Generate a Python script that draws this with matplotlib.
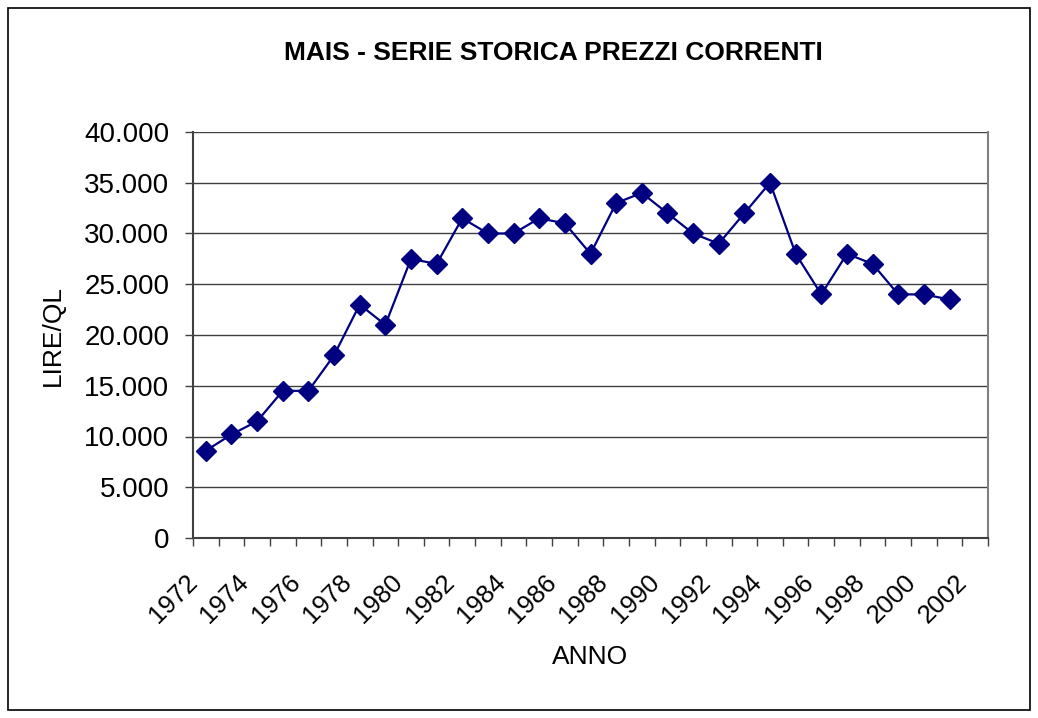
import matplotlib.pyplot as plt
from matplotlib.patches import Rectangle
from matplotlib.ticker import FuncFormatter, MultipleLocator
from matplotlib.transforms import ScaledTranslation

plt.rcParams['font.family'] = ['Liberation Sans', 'DejaVu Sans']

# categories 1972..2002, no price for 2002
years = list(range(1972, 2003))
prices = [8600, 10200, 11500, 14500, 14500, 18000, 23000, 21000, 27500, 27000,
          31500, 30000, 30000, 31500, 31000, 28000, 33000, 34000, 32000, 30000,
          29000, 32000, 35000, 28000, 24000, 28000, 27000, 24000, 24000, 23500]
tick_years = years[::2]

fig = plt.figure(figsize=(10.38, 7.18), dpi=100)
ax = fig.add_axes([193 / 1038, 1 - 538 / 718, 795 / 1038, 406 / 718])

x = list(range(len(prices)))
ax.plot(x, prices, color='#000080', lw=1.6, marker='D', ms=10.5,
        markerfacecolor='#000080', markeredgecolor='#000080', zorder=3)

ax.set_xlim(-0.5, len(years) - 0.5)
ax.set_ylim(0, 40000)
ax.yaxis.set_major_locator(MultipleLocator(5000))
ax.yaxis.set_major_formatter(FuncFormatter(lambda v, p: f'{int(v):,}'.replace(',', '.')))
ax.grid(axis='y', color='#404040', lw=1)
ax.set_axisbelow(True)

# ticks between categories, rotated labels every 2 years, sitting a bit left
ax.set_xticks([i - 0.5 for i in range(len(years) + 1)])
ax.set_xticklabels([])
ax.tick_params(axis='x', length=6, width=1, color='#404040')
ax.tick_params(axis='y', length=6, width=1, color='#404040', labelsize=20, pad=11)
lbl_tr = ax.get_xaxis_transform() + ScaledTranslation(-0.205, -0.32, fig.dpi_scale_trans)
for y in tick_years:
    ax.text(years.index(y), 0, str(y), transform=lbl_tr, rotation=45,
            ha='right', va='top', rotation_mode='anchor', fontsize=18.5, clip_on=False)

for s in ['left', 'bottom']:
    ax.spines[s].set_color('#404040')
    ax.spines[s].set_linewidth(1.5)
ax.spines['right'].set_color('#808080')
ax.spines['right'].set_linewidth(1.5)
ax.spines['top'].set_visible(False)

ax.set_ylabel('LIRE/QL', fontsize=19, va='center')
ax.yaxis.set_label_coords((53 - 193) / 795, 0.5)
ax.set_xlabel('ANNO', fontsize=19, va='top')
ax.xaxis.set_label_coords(0.5, (538 - 645) / 406)
fig.text(553 / 1038, 1 - 53 / 718, 'MAIS - SERIE STORICA PREZZI CORRENTI',
         ha='center', va='center', fontsize=19, fontweight='bold')

fig.patches.append(Rectangle((8 / 1038, 8 / 718), 1022 / 1038, 702 / 718,
                             transform=fig.transFigure, fill=False, ec='black', lw=1.2))

fig.savefig('out.png', dpi=100)
